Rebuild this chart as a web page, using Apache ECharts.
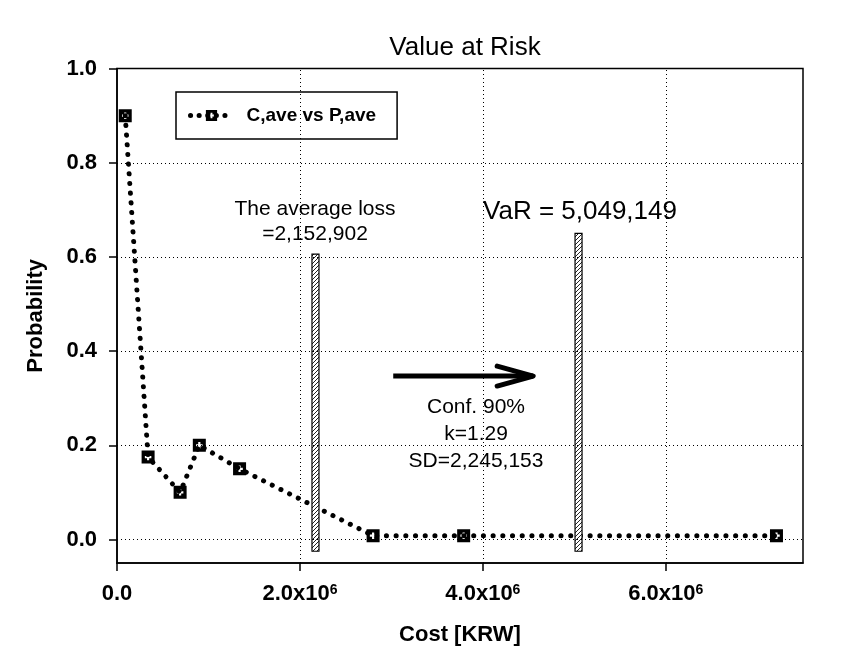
<!DOCTYPE html>
<html>
<head>
<meta charset="utf-8">
<script src="https://cdn.jsdelivr.net/npm/echarts@6/dist/echarts.min.js"></script>
<style>html,body{margin:0;padding:0;background:#fff}#c{width:841px;height:664px}</style>
</head>
<body>
<div id="c"></div>
<script>
// ---- data ----
const costValues = [90000, 340000, 690000, 900000, 1340000, 2800000, 3790000, 7210000];
const probValues = [0.9, 0.175, 0.1, 0.2, 0.15, 0.008, 0.008, 0.008];
const barX = [2170000, 5046000];
const barTop = [0.606, 0.65];
const barBottom = [-0.025, -0.025];
const arrowFromX = [3020000];
const arrowToX = [4550000];
const arrowY = [0.347];
const xTicks = [0, 2000000, 4000000, 6000000];
const yTicks = [0, 0.2, 0.4, 0.6, 0.8, 1.0];
const yGrid = [0, 0.2, 0.4, 0.6, 0.8];
const xGrid = [2000000, 4000000, 6000000];
const seriesName = 'C,ave vs P,ave';

const FONT = '"Liberation Sans", Arial, sans-serif';

const hatch = document.createElement('canvas');
hatch.width = 4; hatch.height = 4;
(function(){
  const g = hatch.getContext('2d');
  g.fillStyle = '#fff'; g.fillRect(0,0,4,4);
  g.strokeStyle = '#222'; g.lineWidth = 1;
  g.beginPath();
  g.moveTo(0,4); g.lineTo(4,0);
  g.moveTo(-1,1); g.lineTo(1,-1);
  g.moveTo(3,5); g.lineTo(5,3);
  g.stroke();
})();

const markerPath = 'path://M0,0L12,0L12,12L0,12Z M5,3L5,5L3,5L3,7L5,7L5,9L7,9L7,7L9,7L9,5L7,5L7,3Z';

const chart = echarts.init(document.getElementById('c'), null, {renderer: 'canvas'});

const lineData = costValues.map((c, i) => [c, probValues[i]]);
const barData = barX.map((x, i) => [x, barTop[i], barBottom[i]]);
const arrowData = arrowFromX.map((x, i) => [x, arrowToX[i], arrowY[i]]);

const gridLineStyle = {color: '#000', width: 1, type: [1, 3]};

chart.setOption({
  animation: false,
  backgroundColor: '#fff',
  title: {
    text: 'Value at Risk', left: 460, top: 30, textAlign: 'center',
    textStyle: {fontFamily: FONT, fontSize: 26, fontWeight: 'normal', color: '#000'}
  },
  legend: {
    data: [seriesName], left: 176, top: 92, orient: 'horizontal',
    backgroundColor: '#fff', borderColor: '#000', borderWidth: 1.5,
    padding: [14, 21, 14, 12], itemWidth: 42, itemHeight: 14,
    lineStyle: {color: '#000', width: 5, type: [0.1, 8.5], cap: 'round'},
    itemStyle: {color: '#000'},
    textStyle: {fontFamily: FONT, fontSize: 19, fontWeight: 'bold', color: '#000', padding: [0, 0, 0, 9]}
  },
  grid: {left: 117, right: 38, top: 68.6, bottom: 101, show: true, borderColor: '#000', borderWidth: 1.5, backgroundColor: 'transparent'},
  xAxis: {
    type: 'value', min: 0, max: 7500000,
    name: 'Cost [KRW]', nameLocation: 'middle', nameGap: 61,
    nameTextStyle: {fontFamily: FONT, fontSize: 22, fontWeight: 'bold', color: '#000'},
    axisLine: {show: true, onZero: false, lineStyle: {color: '#000', width: 1.5}},
    axisTick: {show: true, inside: false, length: 8, customValues: xTicks, lineStyle: {color: '#000', width: 1.5}},
    axisLabel: {
      customValues: xTicks, margin: 20, color: '#000',
      formatter: v => v === 0 ? '{a|0.0}' : '{a|' + (v / 1e6).toFixed(1) + 'x10}{s|6}',
      rich: {
        a: {fontFamily: FONT, fontSize: 22, fontWeight: 'bold', color: '#000'},
        s: {fontFamily: FONT, fontSize: 14, fontWeight: 'bold', color: '#000', padding: [0, 0, 8, 0]}
      }
    },
    splitLine: {show: false}
  },
  yAxis: {
    type: 'value', min: -0.05, max: 1.0,
    name: 'Probability', nameLocation: 'middle', nameGap: 70,
    nameTextStyle: {fontFamily: FONT, fontSize: 22, fontWeight: 'bold', color: '#000'},
    axisLine: {show: true, onZero: false, lineStyle: {color: '#000', width: 1.5}},
    axisTick: {show: true, inside: false, length: 8, customValues: yTicks, lineStyle: {color: '#000', width: 1.5}},
    axisLabel: {
      customValues: yTicks, margin: 20, color: '#000',
      fontFamily: FONT, fontSize: 22, fontWeight: 'bold',
      formatter: v => v.toFixed(1)
    },
    splitLine: {show: false}
  },
  series: [
    {
      name: 'grid', type: 'line', data: [], silent: true,
      markLine: {
        silent: true, symbol: ['none', 'none'], label: {show: false},
        lineStyle: gridLineStyle,
        data: yGrid.map(v => ({yAxis: v})).concat(xGrid.map(v => ({xAxis: v})))
      },
      z: 1
    },
    {
      name: seriesName, type: 'line', data: lineData,
      symbol: markerPath, symbolSize: 13, showSymbol: true,
      itemStyle: {color: '#000'},
      lineStyle: {color: '#000', width: 5, type: [0.1, 9.6], cap: 'round'},
      z: 3
    },
    {
      name: 'bars', type: 'custom', data: barData,
      encode: {x: 0, y: [1, 2]},
      renderItem: (params, api) => {
        const x = api.value(0);
        const p1 = api.coord([x, api.value(1)]);
        const p2 = api.coord([x, api.value(2)]);
        const w = 7;
        return {
          type: 'rect',
          shape: {x: p1[0] - w / 2, y: p1[1], width: w, height: p2[1] - p1[1]},
          style: {fill: {image: hatch, repeat: 'repeat'}, stroke: '#000', lineWidth: 1.2}
        };
      },
      z: 4
    },
    {
      name: 'arrow', type: 'custom', data: arrowData,
      encode: {x: [0, 1], y: 2},
      renderItem: (params, api) => {
        const a = api.coord([api.value(0), api.value(2)]);
        const b = api.coord([api.value(1), api.value(2)]);
        return {
          type: 'group',
          children: [
            {type: 'line', shape: {x1: a[0], y1: a[1], x2: b[0], y2: b[1]},
             style: {stroke: '#000', lineWidth: 5, lineCap: 'butt'}},
            {type: 'polyline', shape: {points: [[b[0] - 36, b[1] - 10], [b[0], b[1]], [b[0] - 36, b[1] + 10]]},
             style: {stroke: '#000', lineWidth: 5, lineCap: 'round', lineJoin: 'round', fill: null}}
          ]
        };
      },
      z: 4
    }
  ],
  graphic: [
    {type: 'text', x: 315, y: 209, style: {text: 'The average loss', align: 'center', verticalAlign: 'middle', font: '21px ' + FONT, fill: '#000'}, z: 10},
    {type: 'text', x: 315, y: 234, style: {text: '=2,152,902', align: 'center', verticalAlign: 'middle', font: '21px ' + FONT, fill: '#000'}, z: 10},
    {type: 'text', x: 580, y: 212, style: {text: 'VaR = 5,049,149', align: 'center', verticalAlign: 'middle', font: '26px ' + FONT, fill: '#000'}, z: 10},
    {type: 'text', x: 476, y: 407, style: {text: 'Conf. 90%', align: 'center', verticalAlign: 'middle', font: '21px ' + FONT, fill: '#000'}, z: 10},
    {type: 'text', x: 476, y: 434, style: {text: 'k=1.29', align: 'center', verticalAlign: 'middle', font: '21px ' + FONT, fill: '#000'}, z: 10},
    {type: 'text', x: 476, y: 461, style: {text: 'SD=2,245,153', align: 'center', verticalAlign: 'middle', font: '21px ' + FONT, fill: '#000'}, z: 10}
  ]
});
</script>
</body>
</html>
